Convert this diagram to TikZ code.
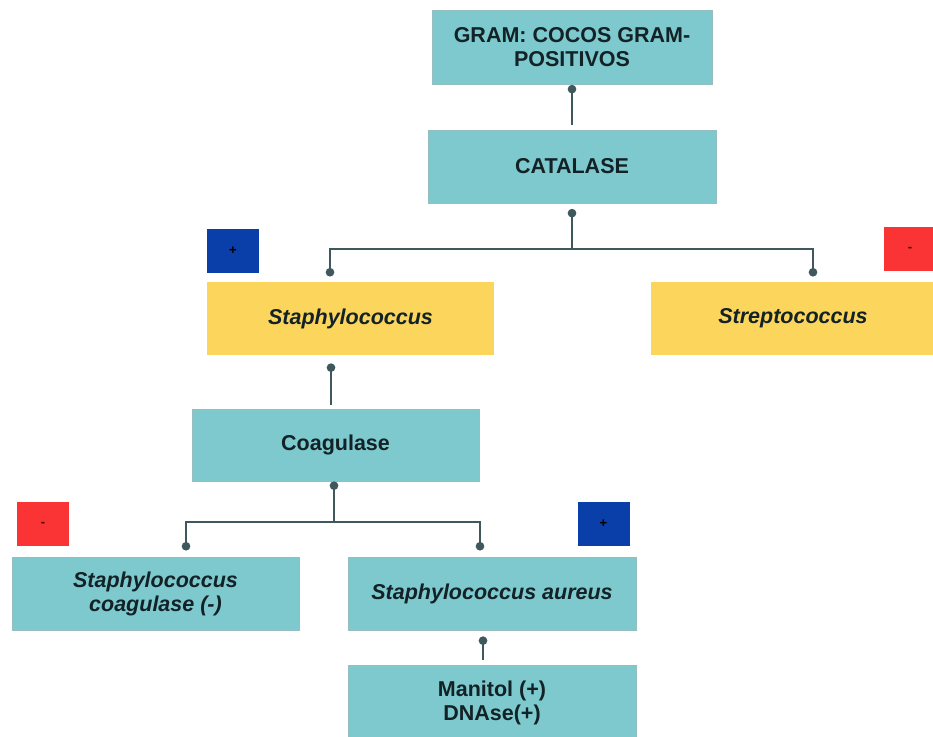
\documentclass[tikz,border=0pt]{standalone}
\usepackage{fontspec}
\setmainfont{Liberation Sans}
\usetikzlibrary{arrows.meta}
\definecolor{tealbox}{RGB}{126,201,206}
\definecolor{tealedge}{RGB}{150,190,192}
\definecolor{yelbox}{RGB}{252,213,92}
\definecolor{linec}{RGB}{62,88,92}
\definecolor{txt}{RGB}{18,34,38}
\definecolor{posblue}{RGB}{10,62,168}
\definecolor{negred}{RGB}{250,52,52}
\tikzset{
  box/.style={rectangle, fill=tealbox, draw=tealedge, line width=0.8pt, inner sep=0pt,
     text=txt, font=\fontsize{21.5}{24}\selectfont\bfseries, align=center},
  ybox/.style={box, fill=yelbox, draw=none},
  mark pos/.style={rectangle, fill=posblue, minimum width=52pt, minimum height=44pt, inner sep=0pt,
     text=black, font=\fontsize{13}{13}\selectfont\bfseries},
  mark neg/.style={rectangle, fill=negred, minimum width=52pt, minimum height=44pt, inner sep=0pt,
     text=black!70!red, font=\fontsize{13}{13}\selectfont\bfseries},
  conn/.style={draw=linec, line width=2pt},
  dotstart/.style={conn, {Circle[length=8.5pt,width=8.5pt]}-},
  dotend/.style={conn, -{Circle[length=8.5pt,width=8.5pt]}},
}
\begin{document}
\begin{tikzpicture}[x=1pt,y=-1pt]
\fill[white] (0,0) rectangle (933,736);
\useasboundingbox (0,0) rectangle (933,736);
\clip (0,0) rectangle (933,736);

% boxes
\node[box, minimum width=280pt, minimum height=74pt] (gram) at (572,47) {GRAM: COCOS GRAM-\\POSITIVOS};
\node[box, minimum width=288pt, minimum height=73pt] (cat) at (572,166.5) {CATALASE};
\node[ybox, minimum width=287pt, minimum height=73pt] (staph) at (350.5,318.5) {\itshape Staphylococcus};
\node[ybox, minimum width=284pt, minimum height=73pt] (strep) at (793,318.5) {\itshape Streptococcus};
\node[box, minimum width=287pt, minimum height=72pt] (coag) at (335.5,445) {Coagulase};
\node[box, minimum width=287pt, minimum height=73pt] (neg) at (155.5,593.5) {\itshape Staphylococcus\\\itshape coagulase (-)};
\node[box, minimum width=288pt, minimum height=73pt] (aur) at (492,593.5) {\itshape Staphylococcus aureus};
\node[box, minimum width=288pt, minimum height=76pt] (man) at (492,703) {Manitol (+)\\DNAse(+)};

% markers
\node[mark pos] (m1) at (233,251) {+};
\node[mark neg] (m2) at (910,249) {-};
\node[mark neg] (m3) at (43,524) {-};
\node[mark pos] (m4) at (603.5,524) {+};

% junction coordinates
\coordinate (j1) at (572,249);
\coordinate (s1) at (330,276.5);
\coordinate (s2) at (813,276.5);
\coordinate (j2) at (334,522);
\coordinate (s3) at (186,550.5);
\coordinate (s4) at (480,550.5);

% connectors
\draw[dotstart] ([yshift=-0.5pt]gram.south) -- ([yshift=5pt]cat.north);
\draw[dotstart] ([yshift=-5.5pt]cat.south) -- (j1);
\draw[dotend] (j1) -| (s1);
\draw[dotend] (j1) -| (s2);
\draw[dotstart] ([xshift=-19.5pt,yshift=-8pt]staph.south) -- ([xshift=-4.5pt,yshift=4pt]coag.north);
\draw[dotstart] ([xshift=-1.5pt,yshift=0pt]coag.south) -- (j2);
\draw[dotend] (j2) -| (s3);
\draw[dotend] (j2) -| (s4);
\draw[dotstart] ([xshift=-9pt,yshift=-6pt]aur.south) -- ([xshift=-9pt,yshift=5pt]man.north);
\end{tikzpicture}
\end{document}
